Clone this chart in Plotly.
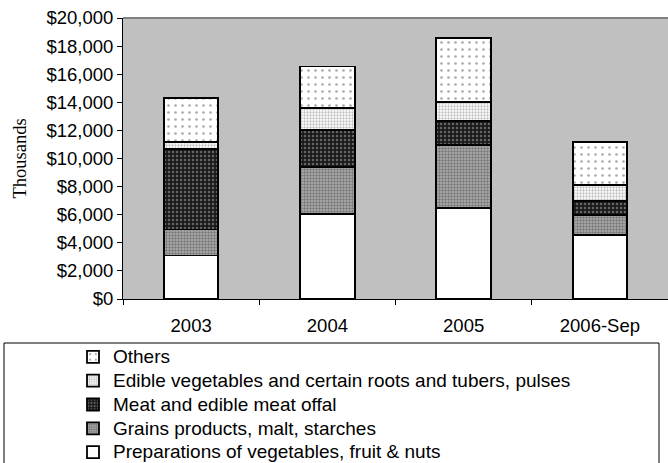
import plotly.graph_objects as go

categories = ["2003", "2004", "2005", "2006-Sep"]
prep = [3100, 6050, 6480, 4560]
grains = [1850, 3350, 4500, 1420]
meat = [5750, 2630, 1690, 990]
edible = [500, 1570, 1350, 1140]
others = [3100, 2950, 4560, 3060]

series = [
    ("Preparations of vegetables, fruit & nuts", prep,
     dict(shape="", bgcolor="white", fgcolor="white")),
    ("Grains products, malt, starches", grains,
     dict(shape=".", bgcolor="#b0b0b0", fgcolor="#404040", size=3, solidity=0.5)),
    ("Meat and edible meat offal", meat,
     dict(shape=".", bgcolor="#1a1a1a", fgcolor="#b0b0b0", size=4, solidity=0.3)),
    ("Edible vegetables and certain roots and tubers, pulses", edible,
     dict(shape=".", bgcolor="white", fgcolor="#808080", size=3, solidity=0.45)),
    ("Others", others,
     dict(shape=".", bgcolor="white", fgcolor="#555555", size=7, solidity=0.12)),
]

fig = go.Figure()
for name, vals, pat in series:
    fig.add_trace(go.Bar(
        x=categories, y=vals,
        name='<span style="font-size:19px">' + name + '</span>',
        marker=dict(color=pat["bgcolor"], pattern=pat,
                    line=dict(color="black", width=1.8)),
    ))

W, H = 668, 463
L, R, T, B = 123, 0, 18, 164
pw, ph = W - L - R, H - T - B

def px(x):
    return (x - L) / pw

def py(y):
    return (H - B - y) / ph

fig.update_layout(
    width=W, height=H,
    margin=dict(l=L, r=R, t=T, b=B, autoexpand=False),
    barmode="stack", bargap=0.6,
    plot_bgcolor="#c0c0c0", paper_bgcolor="white",
    font=dict(family="Liberation Sans, Arial", size=18.5, color="black"),
    showlegend=True,
    legend=dict(
        orientation="v", traceorder="reversed", tracegroupgap=0,
        xref="container", yref="container",
        x=73 / W, xanchor="left", y=1 - 340 / H, yanchor="top",
        bgcolor="rgba(0,0,0,0)", borderwidth=0,
        font=dict(family="Liberation Sans, Arial", size=16),
    ),
    shapes=[
        dict(type="rect", xref="paper", yref="paper",
             x0=px(4), x1=px(659), y0=py(343), y1=py(480),
             line=dict(color="black", width=1), fillcolor="rgba(0,0,0,0)"),
        dict(type="line", xref="paper", yref="paper",
             x0=0, x1=1, y0=1, y1=1, line=dict(color="#808080", width=2)),
    ],
    annotations=[
        dict(text="Thousands", xref="paper", yref="paper", x=px(19), y=0.5,
             textangle=-90, showarrow=False, xanchor="center", yanchor="middle",
             font=dict(family="Liberation Serif, Times New Roman", size=18.5)),
    ],
)

fig.update_yaxes(
    range=[0, 20000], dtick=2000, tickprefix="$", tickformat=",",
    showgrid=False, zeroline=False, automargin=False,
    showline=True, linecolor="black", linewidth=1,
    ticks="outside", ticklen=5, tickcolor="black",
)
fig.update_xaxes(
    showgrid=False, showline=True, linecolor="black", linewidth=1, automargin=False,
    ticks="outside", ticklen=5, tickcolor="black", tickson="boundaries",
    ticklabelstandoff=10,
)

fig.write_html("out.html", config={"displayModeBar": False},
               post_script="document.body.style.margin='0px';")
